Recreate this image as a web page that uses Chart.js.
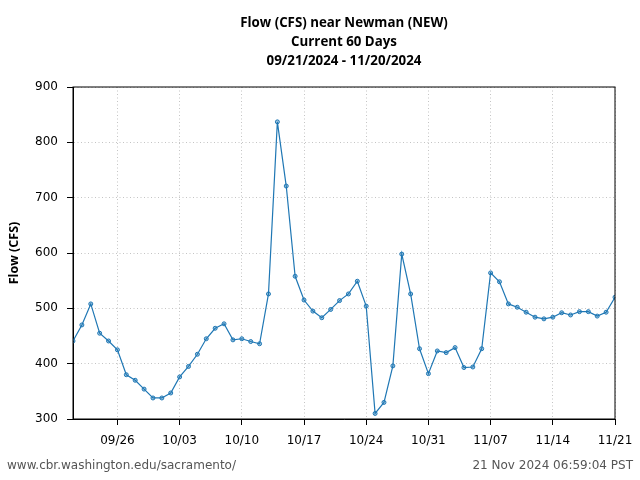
<!DOCTYPE html>
<html>
<head>
<meta charset="utf-8">
<script src="https://cdn.jsdelivr.net/npm/chart.js@4/dist/chart.umd.min.js"></script>
<style>
    html, body { margin: 0; padding: 0; background: #ffffff; }
    #wrap { width: 640px; height: 480px; }
</style>
</head>
<body>
<div id="wrap"><canvas id="flowChart" width="640" height="480"></canvas></div>
<script>
// daily dates shown on the x axis (MM/DD, 2024)
const flowDates = [
    '09/21', '09/22', '09/23', '09/24', '09/25', '09/26', '09/27', '09/28', '09/29', '09/30',
    '10/01', '10/02', '10/03', '10/04', '10/05', '10/06', '10/07', '10/08', '10/09', '10/10',
    '10/11', '10/12', '10/13', '10/14', '10/15', '10/16', '10/17', '10/18', '10/19', '10/20',
    '10/21', '10/22', '10/23', '10/24', '10/25', '10/26', '10/27', '10/28', '10/29', '10/30',
    '10/31', '11/01', '11/02', '11/03', '11/04', '11/05', '11/06', '11/07', '11/08', '11/09',
    '11/10', '11/11', '11/12', '11/13', '11/14', '11/15', '11/16', '11/17', '11/18', '11/19',
    '11/20', '11/21'
];

// flow in CFS, one value per day
const flowValues = [
    441, 470, 508, 455, 441, 425, 380, 370, 354, 338,
    338, 347, 376, 395, 417, 445, 464, 472, 443, 445,
    440, 436, 526, 837, 721, 558, 515, 495, 483, 498,
    514, 526, 549, 504, 310, 330, 396, 598, 526, 427,
    382, 423, 420, 429, 393, 394, 427, 564, 548, 508,
    502, 493, 484, 481, 484, 492, 488, 494, 494, 486,
    493, 520
];

const xTickLabels = ['09/26', '10/03', '10/10', '10/17', '10/24', '10/31', '11/07', '11/14', '11/21'];
const yTickValues = [300, 400, 500, 600, 700, 800, 900];

const titleLines = ['Flow (CFS) near Newman (NEW)', 'Current 60 Days', '09/21/2024 - 11/20/2024'];
const footerLeft = 'www.cbr.washington.edu/sacramento/';
const footerRight = '21 Nov 2024 06:59:04 PST';

const boldFont = "'Open Sans', 'Noto Sans', sans-serif";
const plainFont = "'DejaVu Sans', sans-serif";

const flowPoints = flowValues.map((v, i) => ({ x: i, y: v }));

// title above the plot, frame round it and footer texts
const decorations = {
    id: 'decorations',
    afterDraw(chart) {
        const ctx = chart.ctx;
        const area = chart.chartArea;
        ctx.save();
        ctx.strokeStyle = '#000000';
        ctx.lineWidth = 1;
        ctx.strokeRect(area.left, area.top, area.right - area.left, area.bottom - area.top);

        ctx.fillStyle = '#000000';
        ctx.font = "bold 13.3px " + boldFont;
        ctx.textAlign = 'center';
        ctx.textBaseline = 'middle';
        const cx = (area.left + area.right) / 2;
        titleLines.forEach((line, i) => ctx.fillText(line, cx, 23 + i * 19));

        ctx.fillStyle = '#555555';
        ctx.font = "12px " + plainFont;
        ctx.textAlign = 'left';
        ctx.fillText(footerLeft, 7, 466);
        ctx.textAlign = 'right';
        ctx.fillText(footerRight, 633, 466);
        ctx.restore();
    }
};

const showChart = document.getElementById('flowChart').getContext('2d');
new Chart(showChart, {
    type: 'line',
    data: {
        datasets: [{
            data: flowPoints,
            borderColor: '#1f77b4',
            backgroundColor: 'rgba(31, 119, 180, 0.4)',
            borderWidth: 1.2,
            pointRadius: 2,
            pointBorderWidth: 1,
            pointBorderColor: '#1f77b4',
            pointBackgroundColor: 'rgba(31, 119, 180, 0.4)',
            tension: 0,
            fill: false
        }]
    },
    options: {
        responsive: false,
        animation: false,
        layout: {
            padding: { top: 87, right: 25, left: 0, bottom: 0 }
        },
        plugins: {
            legend: { display: false },
            title: { display: false },
            tooltip: { enabled: false }
        },
        scales: {
            x: {
                type: 'linear',
                min: 0,
                max: flowDates.length - 1,
                afterBuildTicks: (scale) => {
                    scale.ticks = xTickLabels.map(l => ({ value: flowDates.indexOf(l) }));
                },
                afterFit: (scale) => {
                    scale.height = 61;
                    scale.paddingLeft = 0;
                    scale.paddingRight = 0;
                },
                ticks: {
                    callback: (value) => flowDates[value],
                    font: { size: 12, family: plainFont },
                    color: '#000000',
                    padding: 9,
                    maxRotation: 0,
                    autoSkip: false
                },
                grid: {
                    color: '#c4c4c4',
                    lineWidth: 1,
                    tickColor: '#000000',
                    tickLength: 6,
                    tickWidth: 1
                },
                border: { display: true, color: '#000000', width: 1, dash: [1, 2.5] }
            },
            y: {
                min: 300,
                max: 900,
                afterBuildTicks: (scale) => {
                    scale.ticks = yTickValues.map(v => ({ value: v }));
                },
                afterFit: (scale) => {
                    scale.width = 73;
                },
                title: {
                    display: true,
                    text: 'Flow (CFS)',
                    font: { size: 12.5, weight: 'bold', family: boldFont },
                    color: '#000000',
                    padding: { top: 7, bottom: 0 }
                },
                ticks: {
                    font: { size: 12, family: plainFont },
                    color: '#000000',
                    padding: 9
                },
                grid: {
                    color: '#c4c4c4',
                    lineWidth: 1,
                    tickColor: '#000000',
                    tickLength: 6,
                    tickWidth: 1
                },
                border: { display: true, color: '#000000', width: 1, dash: [1, 2.5] }
            }
        }
    },
    plugins: [decorations]
});
</script>
</body>
</html>
